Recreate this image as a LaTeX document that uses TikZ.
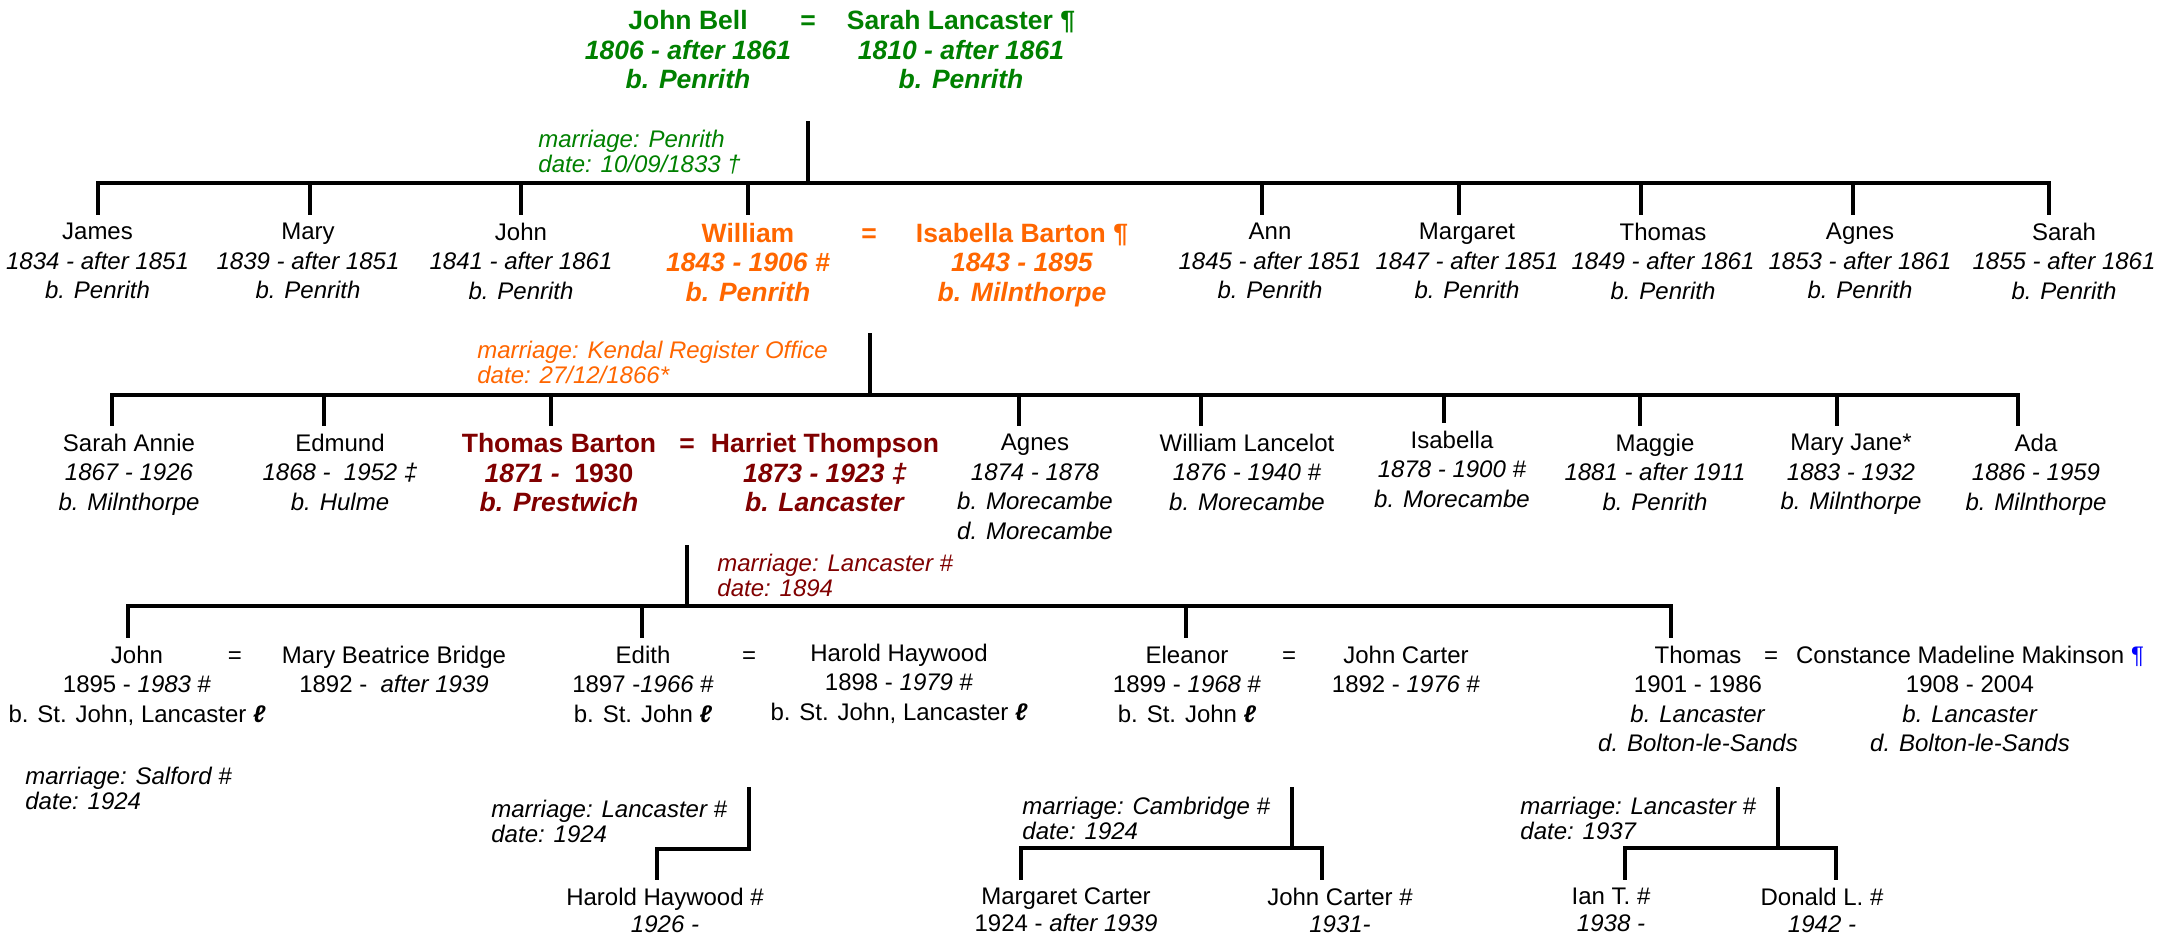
\documentclass[tikz,border=0pt]{standalone}
\usepackage{fontspec}
\setmainfont{Liberation Sans}

\definecolor{bellgreen}{RGB}{0,128,0}
\definecolor{bartonorange}{RGB}{255,102,0}
\definecolor{thompsonred}{RGB}{128,0,0}

\begin{document}
\begin{tikzpicture}[x=0.5pt,y=-0.5pt,
    kin/.style={anchor=north,align=center,inner sep=0pt,outer sep=5pt,font=\fontsize{12}{14.75}\selectfont},
    kinbold/.style={kin,font=\fontsize{13.25}{14.75}\selectfont\bfseries},
    grandkin/.style={kin,font=\fontsize{12}{13.5}\selectfont},
    wednote/.style={anchor=north west,align=left,inner sep=0pt,font=\fontsize{12}{12.75}\selectfont\itshape},
    famline/.style={line width=2pt,line cap=rect}]
    \useasboundingbox (0,0) rectangle (2169,936);

    % John Bell = Sarah Lancaster
    \node[kinbold,bellgreen] (jbell) at (688,0.5) {John Bell\\\textit{1806 - after 1861}\\\textit{b. Penrith}};
    \node[kinbold,bellgreen] (wed0) at (808,0.5) {\vphantom{Jh}=};
    \node[kinbold,bellgreen] (slancaster) at (961,0.5) {Sarah Lancaster ¶\\\textit{1810 - after 1861}\\\textit{b. Penrith}};

    % label
    \node[wednote,bellgreen] (wednote0) at (538,129.4) {marriage: Penrith\\date: 10/09/1833 †};
    \coordinate (m0) at (808,123);
    \coordinate (j0) at (808,183);

    \node[kin] (james) at (97.5,213) {James\\\textit{1834 - after 1851}\\\textit{b. Penrith}};
    \node[kin] (mary) at (308,213) {Mary\\\textit{1839 - after 1851}\\\textit{b. Penrith}};
    \node[kin] (john) at (521,213) {John\\\textit{1841 - after 1861}\\\textit{b. Penrith}};
    \node[kinbold,bartonorange] (william) at (748,213) {William\\\textit{1843 - 1906 \#}\\\textit{b. Penrith}};
    \node[kinbold,bartonorange] (wed1) at (869,213) {\vphantom{Jh}=};
    \node[kinbold,bartonorange] (ibarton) at (1022,213) {Isabella Barton ¶\\\textit{1843 - 1895}\\\textit{b. Milnthorpe}};
    \node[kin] (ann) at (1270,213) {Ann\\\textit{1845 - after 1851}\\\textit{b. Penrith}};
    \node[kin] (margaret) at (1467,213) {Margaret\\\textit{1847 - after 1851}\\\textit{b. Penrith}};
    \node[kin] (thomas) at (1663,213) {Thomas\\\textit{1849 - after 1861}\\\textit{b. Penrith}};
    \node[kin] (agnes) at (1860,213) {Agnes\\\textit{1853 - after 1861}\\\textit{b. Penrith}};
    \node[kin] (sarah) at (2064,213) {Sarah\\\textit{1855 - after 1861}\\\textit{b. Penrith}};

    \foreach \kid/\dx in {james/0,mary/1.5,john/0,william/0,ann/-8,margaret/-8,thomas/-22,agnes/-7,sarah/-15}
    \coordinate (tick\kid) at ([xshift=\dx*0.5pt]\kid.north);
    \draw[famline] (m0) -- (j0);
    \draw[famline] (j0 -| tickjames) -- (j0 -| ticksarah);
    \foreach \kid in {james,mary,john,william,ann,margaret,thomas,agnes,sarah}
    \draw[famline] (j0 -| tick\kid) -- (tick\kid);

    % label
    \node[wednote,bartonorange] (wednote1) at (477,340.4) {marriage: Kendal Register Office\\date: 27/12/1866*};
    \coordinate (m1) at (870,335);
    \coordinate (j1) at (870,395);

    \node[kin] (sannie) at (129,424) {Sarah Annie\\\textit{1867 - 1926}\\\textit{b. Milnthorpe}};
    \node[kin] (edmund) at (340,424) {Edmund\\\textit{1868 -~ 1952 ‡}\\\textit{b. Hulme}};
    \node[kinbold,thompsonred] (tbarton) at (559,423.5) {Thomas Barton\\\textit{1871 -}~ 1930\\\textit{b. Prestwich}};
    \node[kinbold,thompsonred] (wed2) at (687,423.5) {\vphantom{Jh}=};
    \node[kinbold,thompsonred] (hthompson) at (825,423.5) {Harriet Thompson\\\textit{1873 - 1923 ‡}\\\textit{b. Lancaster}};
    \node[kin] (agnesm) at (1035,424) {Agnes\\\textit{1874 - 1878}\\\textit{b. Morecambe}\\\textit{d. Morecambe}};
    \node[kin] (wlancelot) at (1247,424) {William Lancelot\\\textit{1876 - 1940 \#}\\\textit{b. Morecambe}};
    \node[kin] (isabellam) at (1452,421) {Isabella\\\textit{1878 - 1900 \#}\\\textit{b. Morecambe}};
    \node[kin] (maggie) at (1655,424) {Maggie\\\textit{1881 - after 1911}\\\textit{b. Penrith}};
    \node[kin] (maryjane) at (1851,424) {Mary Jane*\\\textit{1883 - 1932}\\\textit{b. Milnthorpe}};
    \node[kin] (ada) at (2036,424) {Ada\\\textit{1886 - 1959}\\\textit{b. Milnthorpe}};

    \foreach \kid/\dx in {sannie/-17,edmund/-16,tbarton/-8,agnesm/-16,wlancelot/-46,isabellam/-8,maggie/-15,maryjane/-14,ada/-18}
    \coordinate (tick\kid) at ([xshift=\dx*0.5pt]\kid.north);
    \draw[famline] (m1) -- (j1);
    \draw[famline] (j1 -| ticksannie) -- (j1 -| tickada);
    \foreach \kid in {sannie,edmund,tbarton,agnesm,wlancelot,isabellam,maggie,maryjane,ada}
    \draw[famline] (j1 -| tick\kid) -- (tick\kid);

    % label
    \node[wednote,thompsonred] (wednote2) at (717,553.4) {marriage: Lancaster \#\\date: 1894};
    \coordinate (m2) at (687,547);
    \coordinate (j2) at (687,606);

    \node[kin] (johnb) at (137,636) {John\\1895 - \textit{1983} \#\\b. St. John, Lancaster {\bfseries\itshape ℓ}};
    \node[kin] (wed3) at (235,636) {\vphantom{Jh}=};
    \node[kin] (mbridge) at (394,636) {Mary Beatrice Bridge\\1892 -~ \textit{after 1939}};
    \node[kin] (edith) at (643,636) {Edith\\1897 -\textit{1966} \#\\b. St. John {\bfseries\itshape ℓ}};
    \node[kin] (wed4) at (749,636) {\vphantom{Jh}=};
    \node[kin] (hhaywood) at (899,634) {Harold Haywood\\1898 - \textit{1979} \#\\b. St. John, Lancaster {\bfseries\itshape ℓ}};
    \node[kin] (eleanor) at (1187,636) {Eleanor\\1899 - \textit{1968} \#\\b. St. John {\bfseries\itshape ℓ}};
    \node[kin] (wed5) at (1289,636) {\vphantom{Jh}=};
    \node[kin] (jcarter) at (1406,636) {John Carter\\1892 - \textit{1976} \#};
    \node[kin] (thomasb) at (1698,636) {Thomas\\1901 - 1986\\\textit{b. Lancaster}\\\textit{d. Bolton-le-Sands}};
    \node[kin] (wed6) at (1771,636) {\vphantom{Jh}=};
    \node[kin] (cmakinson) at (1970,636) {Constance Madeline Makinson {\color{blue}¶}\\1908 - 2004\\\textit{b. Lancaster}\\\textit{d. Bolton-le-Sands}};

    \foreach \kid/\dx in {johnb/-9,edith/-1,eleanor/-1,thomasb/-27}
    \coordinate (tick\kid) at ([xshift=\dx*0.5pt]\kid.north);
    \draw[famline] (m2) -- (j2);
    \draw[famline] (j2 -| tickjohnb) -- (j2 -| tickthomasb);
    \foreach \kid in {johnb,edith,eleanor,thomasb}
    \draw[famline] (j2 -| tick\kid) -- (tick\kid);

    % label
    \node[wednote] (wednote3) at (25,766.4) {marriage: Salford \#\\date: 1924};
    \node[wednote] (wednote4) at (491,799.4) {marriage: Lancaster \#\\date: 1924};
    \node[wednote] (wednote5) at (1022,796.4) {marriage: Cambridge \#\\date: 1924};
    \node[wednote] (wednote6) at (1520,796.4) {marriage: Lancaster \#\\date: 1937};
    \coordinate (m4) at (749,789);
    \coordinate (j4) at (749,849);
    \coordinate (m5) at (1292,789);
    \coordinate (j5) at (1292,848);
    \coordinate (m6) at (1778,789);
    \coordinate (j6) at (1778,848);

    \node[grandkin] (hhjunior) at (665,878) {Harold Haywood \#\\\textit{1926 -}};
    \node[grandkin] (mcarter) at (1066,878) {Margaret Carter\\1924 - \textit{after 1939}};
    \node[grandkin] (jcjunior) at (1340,878) {John Carter \#\\\textit{1931-}};
    \node[grandkin] (iant) at (1611,878) {Ian T. \#\\\textit{1938 -}};
    \node[grandkin] (donaldl) at (1822,878) {Donald L. \#\\\textit{1942 -}};

    \foreach \kid/\dx in {hhjunior/-8,mcarter/-45,jcjunior/-18,iant/14,donaldl/14}
    \coordinate (tick\kid) at ([xshift=\dx*0.5pt]\kid.north);
    \draw[famline] (m4) -- (j4) -| (tickhhjunior);
    \draw[famline] (m5) -- (j5);
    \draw[famline] (j5 -| tickmcarter) -- (j5 -| tickjcjunior);
    \draw[famline] (m6) -- (j6);
    \draw[famline] (j6 -| tickiant) -- (j6 -| tickdonaldl);
    \foreach \from/\to in {j5/mcarter,j5/jcjunior,j6/iant,j6/donaldl}
    \draw[famline] (\from -| tick\to) -- (tick\to);

  \end{tikzpicture}
\end{document}
